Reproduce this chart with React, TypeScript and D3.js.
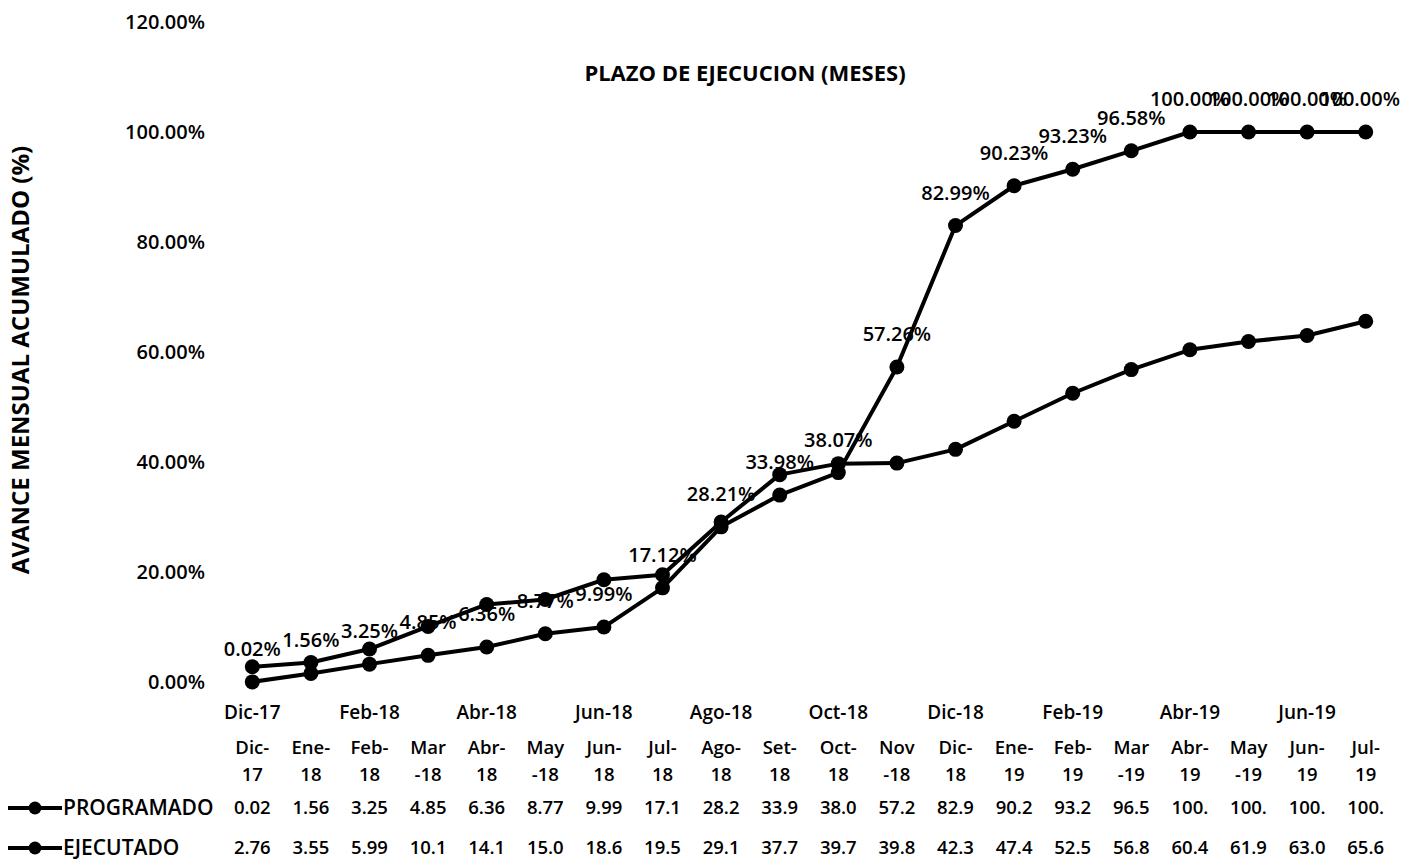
import React, { useEffect, useRef } from 'react';
import * as d3 from 'd3';

// months on the category axis
const months = [
  'Dic-17', 'Ene-18', 'Feb-18', 'Mar-18', 'Abr-18', 'May-18', 'Jun-18', 'Jul-18', 'Ago-18', 'Set-18',
  'Oct-18', 'Nov-18', 'Dic-18', 'Ene-19', 'Feb-19', 'Mar-19', 'Abr-19', 'May-19', 'Jun-19', 'Jul-19',
];

// table header, wrapped the way Excel wrapped it
const headTop = ['Dic-', 'Ene-', 'Feb-', 'Mar', 'Abr-', 'May', 'Jun-', 'Jul-', 'Ago-', 'Set-',
  'Oct-', 'Nov', 'Dic-', 'Ene-', 'Feb-', 'Mar', 'Abr-', 'May', 'Jun-', 'Jul-'];
const headBottom = ['17', '18', '18', '-18', '18', '-18', '18', '18', '18', '18',
  '18', '-18', '18', '19', '19', '-19', '19', '-19', '19', '19'];

// % accumulated
const programado = [0.02, 1.56, 3.25, 4.85, 6.36, 8.77, 9.99, 17.12, 28.21, 33.98,
  38.07, 57.26, 82.99, 90.23, 93.23, 96.58, 100, 100, 100, 100];
const ejecutado = [2.76, 3.55, 5.99, 10.1, 14.1, 15.0, 18.6, 19.5, 29.1, 37.7,
  39.7, 39.8, 42.3, 47.4, 52.5, 56.8, 60.4, 61.9, 63.0, 65.6];

// values as the (truncated) data table shows them
const progTable = ['0.02', '1.56', '3.25', '4.85', '6.36', '8.77', '9.99', '17.1', '28.2', '33.9',
  '38.0', '57.2', '82.9', '90.2', '93.2', '96.5', '100.', '100.', '100.', '100.'];
const ejecTable = ['2.76', '3.55', '5.99', '10.1', '14.1', '15.0', '18.6', '19.5', '29.1', '37.7',
  '39.7', '39.8', '42.3', '47.4', '52.5', '56.8', '60.4', '61.9', '63.0', '65.6'];

const yTicks = [0, 20, 40, 60, 80, 100, 120];

const FONT = '"Open Sans", "Noto Sans", sans-serif';

export default function App() {
  const svgRef = useRef<SVGSVGElement>(null);

  useEffect(() => {
    if (!svgRef.current) return;
    const svg = d3.select(svgRef.current);
    svg.selectAll('*').remove();

    const width = 1402;
    const height = 862;
    svg.attr('width', width).attr('height', height).style('font-family', FONT);

    const x = d3.scaleBand<string>().domain(months).range([223, 1395]);
    const cx = (m: string) => (x(m) as number) + x.bandwidth() / 2;
    const y = d3.scaleLinear().domain([0, 120]).range([682, 22]);

    // title
    svg.append('text')
      .attr('x', 745).attr('y', 81)
      .attr('text-anchor', 'middle')
      .style('font-size', '22px').style('font-weight', 'bold')
      .text('PLAZO DE EJECUCION (MESES)');

    // y axis title
    svg.append('text')
      .attr('transform', `translate(29,${y(60) + 8}) rotate(-90)`)
      .attr('text-anchor', 'middle')
      .style('font-size', '24px').style('font-weight', 'bold')
      .text('AVANCE MENSUAL ACUMULADO (%)');

    // y axis
    const yAxis = svg.append('g')
      .attr('transform', 'translate(205,0)')
      .call(d3.axisLeft(y).tickValues(yTicks).tickSize(0).tickPadding(0)
        .tickFormat(d => `${(+d).toFixed(2)}%`));
    yAxis.select('.domain').remove();
    yAxis.selectAll('text')
      .style('font-family', FONT).style('font-size', '20px').style('font-weight', '600').attr('fill', '#000');

    // x axis, every other month
    const xAxis = svg.append('g')
      .attr('transform', 'translate(0,705)')
      .call(d3.axisBottom(x).tickSize(0).tickPadding(0)
        .tickFormat((d, i) => (i % 2 === 0 ? d : '')));
    xAxis.select('.domain').remove();
    xAxis.selectAll('text')
      .style('font-family', FONT).style('font-size', '19px').style('font-weight', '600').attr('fill', '#000');

    // data labels (drawn under the lines), kept inside the chart
    svg.append('g').selectAll('text')
      .data(programado)
      .enter()
      .append('text')
      .attr('x', (d, i) => Math.min(cx(months[i]), width - 42))
      .attr('y', d => y(d) - 26)
      .attr('text-anchor', 'middle')
      .style('font-size', '20px').style('font-weight', '600')
      .text(d => `${d.toFixed(2)}%`);

    const line = d3.line<number>()
      .x((d, i) => cx(months[i]))
      .y(d => y(d));

    [ejecutado, programado].forEach(series => {
      svg.append('path')
        .datum(series)
        .attr('d', line)
        .attr('fill', 'none')
        .attr('stroke', '#000')
        .attr('stroke-width', 4)
        .attr('stroke-linejoin', 'round');
      svg.append('g').selectAll('circle')
        .data(series)
        .enter()
        .append('circle')
        .attr('cx', (d, i) => cx(months[i]))
        .attr('cy', d => y(d))
        .attr('r', 7.5)
        .attr('fill', '#000');
    });

    // data table
    const table = svg.append('g').style('font-size', '18.5px').style('font-weight', '600');
    const rows: [string[], number][] = [[headTop, 754], [headBottom, 781], [progTable, 814], [ejecTable, 854]];
    rows.forEach(([vals, yy]) => {
      table.append('g').selectAll('text')
        .data(vals)
        .enter()
        .append('text')
        .attr('x', (d, i) => cx(months[i]))
        .attr('y', yy)
        .attr('text-anchor', 'middle')
        .text(d => d);
    });

    // legend keys
    const legend = [['PROGRAMADO', 808], ['EJECUTADO', 848]] as [string, number][];
    legend.forEach(([name, yy]) => {
      svg.append('line')
        .attr('x1', 8).attr('x2', 62).attr('y1', yy).attr('y2', yy)
        .attr('stroke', '#000').attr('stroke-width', 4);
      svg.append('circle').attr('cx', 35).attr('cy', yy).attr('r', 6.5).attr('fill', '#000');
      svg.append('text')
        .attr('x', 63).attr('y', yy + 7)
        .style('font-size', '21px').style('font-weight', '600')
        .text(name);
    });
  }, []);

  return <svg ref={svgRef} style={{ position: 'absolute', left: 0, top: 0 }}></svg>;
}
